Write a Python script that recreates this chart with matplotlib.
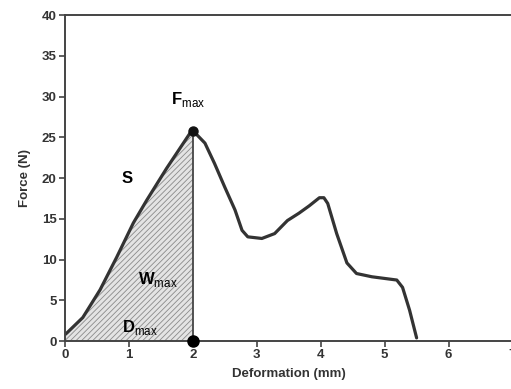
import matplotlib
matplotlib.use("Agg")
import matplotlib.pyplot as plt
import numpy as np

plt.rcParams["font.family"] = ["Liberation Sans", "DejaVu Sans"]
plt.rcParams["mathtext.fontset"] = "custom"
plt.rcParams["mathtext.rm"] = "Liberation Sans"
plt.rcParams["mathtext.bf"] = "Liberation Sans:bold"
plt.rcParams["hatch.color"] = "#8a8a8a"
plt.rcParams["hatch.linewidth"] = 0.6

# force-deformation curve
deform = [0.0, 0.03, 0.28, 0.55, 0.81, 1.07, 1.28, 1.59, 1.98, 2.03, 2.19, 2.34,
          2.5, 2.66, 2.77, 2.86, 3.08, 3.28, 3.48, 3.66, 3.82, 3.98, 4.05, 4.11,
          4.25, 4.41, 4.56, 4.8, 5.19, 5.28, 5.39, 5.5]
force = [0.8, 1.0, 2.9, 6.3, 10.3, 14.5, 17.3, 21.2, 25.8, 25.6, 24.3, 21.8,
         18.9, 16.1, 13.6, 12.8, 12.6, 13.2, 14.8, 15.7, 16.6, 17.6, 17.6, 16.9,
         13.2, 9.6, 8.3, 7.9, 7.5, 6.6, 3.8, 0.4]
peak_x, peak_f = 2.0, 25.8
xticks = [0, 1, 2, 3, 4, 5, 6, 7]
yticks = [0, 5, 10, 15, 20, 25, 30, 35, 40]

fig = plt.figure(figsize=(5.11, 3.89), dpi=100)
ax = fig.add_axes([0.127, 0.123, 0.876, 0.838])

x = np.array(deform)
f = np.array(force)
mask = x <= peak_x
xf = np.append(x[mask], peak_x)
ff = np.append(f[mask], peak_f)
ax.fill_between(xf, 0, ff, facecolor="#e4e4e4", hatch="//////", edgecolor="#8a8a8a",
                linewidth=0)

ax.plot(x, f, color="#333333", lw=2.3, solid_joinstyle="round", solid_capstyle="round")
ax.plot([peak_x, peak_x], [0, peak_f], color="#444444", lw=1.3)
ax.plot([peak_x], [0], "o", color="black", ms=8, clip_on=False, zorder=5)
ax.plot([peak_x], [peak_f], "o", color="#111111", ms=6.5, clip_on=False, zorder=5)

ax.text(1.92, 29.6, r"$\mathbf{F}_{\mathrm{max}}$", ha="center", va="center", fontsize=12)
ax.text(0.97, 20.0, r"$\mathbf{S}$", ha="center", va="center", fontsize=12)
ax.text(1.45, 7.6, r"$\mathbf{W}_{\mathrm{max}}$", ha="center", va="center", fontsize=12)
ax.text(1.17, 1.7, r"$\mathbf{D}_{\mathrm{max}}$", ha="center", va="center", fontsize=12)

ax.set_xlim(0, 7)
ax.set_ylim(0, 40)
ax.set_xticks(xticks)
ax.set_yticks(yticks)
ax.tick_params(direction="out", length=4, width=1.2, color="#444444",
               labelsize=9.5, pad=2)
for lab in ax.get_xticklabels() + ax.get_yticklabels():
    lab.set_fontweight("bold")
    lab.set_color("#333333")
for s in ["left", "bottom", "top"]:
    ax.spines[s].set_linewidth(1.4)
    ax.spines[s].set_color("#444444")
ax.spines["right"].set_visible(False)
ax.set_xlabel("Deformation (mm)", fontsize=9.5, fontweight="bold", color="#333333", labelpad=5)
ax.set_ylabel("Force (N)", fontsize=9.5, fontweight="bold", color="#333333", labelpad=8)

fig.savefig("out.png", dpi=100)
